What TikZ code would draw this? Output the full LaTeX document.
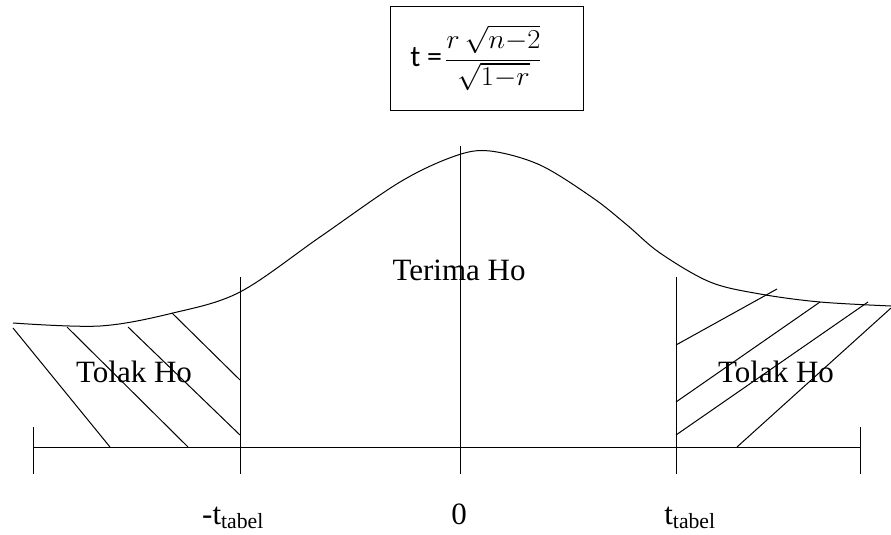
\RequirePackage{fix-cm}
\documentclass[tikz,border=0pt]{standalone}
\usepackage{graphicx}
\usepackage{fontspec}
\setmainfont{Liberation Serif}
\newfontfamily\calibrifont{Carlito}
\usetikzlibrary{positioning}

\begin{document}
\begin{tikzpicture}[x=1pt, y=-1pt,
  line/.style={line width=1pt},
  txt/.style={font=\fontsize{31}{36}\selectfont, inner sep=0pt},
  formbox/.style={draw, line width=1pt, minimum width=193pt, minimum height=103pt}
]
  \useasboundingbox (0,0) rectangle (891,535);

  % rumus
  \node[formbox] (box) at (486.5,58.5) {};
  \node[font=\fontsize{26}{30}\selectfont, inner sep=0pt] (rumus) at (476,58)
    {{\calibrifont\fontsize{30}{34}\selectfont t =}\hspace{3pt}\scalebox{1.1}[1.05]{$\displaystyle\frac{r\,\sqrt{n{-}2}}{\sqrt{1{-}r}}$}};

  % kurva
  \draw[line] plot[smooth, tension=0.55] coordinates {
    (13,323) (100,326) (173,313) (240,292) (320,237) (400,182) (455,156)
    (490,151) (540,165) (593,198) (627,225) (660,253) (710,282) (760,294)
    (820,302) (891,306)};

  % sumbu
  \coordinate (kiri) at (33,447);
  \coordinate (kanan) at (860,447);
  \draw[line] (kiri) -- (kanan);
  \draw[line] (33,427) -- (33,474);
  \draw[line] (860,427) -- (860,474);
  \draw[line] (240,277) -- (240,474);
  \draw[line] (460,146) -- (460,474);
  \draw[line] (676,277) -- (676,474);

  % arsiran kiri
  \draw[line] (13,328) -- (110,447);
  \draw[line] (67,327) -- (188,447);
  \draw[line] (128,327) -- (240,435);
  \draw[line] (172,313) -- (240,380);
  % arsiran kanan
  \draw[line] (676,345) -- (777,289);
  \draw[line] (676,402) -- (820,302);
  \draw[line] (676,435) -- (868,302);
  \draw[line] (737,447) -- (891,308);

  % teks
  \node[txt, anchor=base] (terima) at (459,280) {Terima Ho};
  \node[txt, anchor=base] (tolak1) at (134,382) {Tolak Ho};
  \node[txt, anchor=base] (tolak2) at (776,382) {Tolak Ho};
  \node[txt, anchor=base] (tmin) at (233,524) {-t\textsubscript{tabel}};
  \node[txt, anchor=base] (nol) at (459,524) {0};
  \node[txt, anchor=base] (tplus) at (690,524) {t\textsubscript{tabel}};
\end{tikzpicture}
\end{document}
